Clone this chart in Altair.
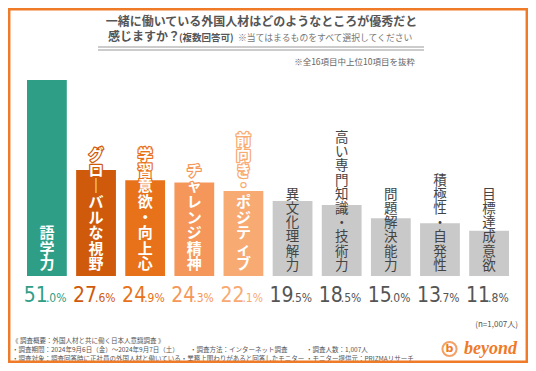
import altair as alt
import pandas as pd

categories = ["語学力", "グローバルな視野", "学習意欲・向上心", "チャレンジ精神", "前向き・ポジティブ",
              "異文化理解力", "高い専門知識・技術力", "問題解決能力", "積極性・自発性", "目標達成意欲"]
values = [51.0, 27.6, 24.9, 24.3, 22.1, 19.5, 18.5, 15.0, 13.7, 11.8]
bar_colors = ["#2e9e87", "#cf5a0c", "#e8721a", "#f5975a", "#f8aa73",
              "#c9c9c9", "#c9c9c9", "#c9c9c9", "#c9c9c9", "#c9c9c9"]
pct_colors = ["#2e9e87", "#cf5a0c", "#e8721a", "#f5975a", "#f8aa73",
              "#555555", "#555555", "#555555", "#555555", "#555555"]
groups = ["c"] * 5 + ["g"] * 5

title1 = "一緒に働いている外国人材はどのようなところが優秀だと"
title2a = "感じますか？"
title2b = "(複数回答可)"
title2c = "※当てはまるものをすべて選択してください"
subnote = "※全16項目中上位10項目を抜粋"
n_note = "(n=1,007人)"
foot1 = "《 調査概要：外国人材と共に働く日本人意識調査 》"
foot2a = "・調査期間：2024年9月6日（金）～2024年9月7日（土）"
foot2b = "・調査方法：インターネット調査"
foot2c = "・調査人数：1,007人"
foot3a = "・調査対象：調査回答時に正社員の外国人材と働いている・業務上関わりがあると回答したモニター"
foot3b = "・モニター提供元：PRIZMAリサーチ"
logo = "beyond"

JP = "Noto Sans CJK JP"
NUM = "'DejaVu Sans Condensed', Roboto, sans-serif"
ORANGE = "#ef7a28"

# geometry of the value axis (pixels per percent), used to stack vertical labels
Y_TOP_PX, Y_BOT_PX, Y_MAX = 72, 268, 51
PX_PER_UNIT = (Y_BOT_PX - Y_TOP_PX) / Y_MAX
LH_C, LH_G, GAP = 15.6, 14.2, 3


def vertical(s):
    return "\n".join("｜" if ch == "ー" else ch for ch in s)


df = pd.DataFrame({
    "cat": categories,
    "value": values,
    "color": bar_colors,
    "pcolor": pct_colors,
    "group": groups,
})
df["vlabel"] = [vertical(c) for c in categories]
df["n"] = [len(c) for c in categories]
df["ipart"] = [str(int(v)) for v in values]
df["dpart"] = ["." + f"{v:.1f}".split(".")[1] + "%" for v in values]
df["base"] = 0.0

xs = alt.Scale(domain=categories, range=[19, 501], paddingInner=0.19, paddingOuter=0)
ys = alt.Scale(domain=[0, Y_MAX], range=[Y_BOT_PX, Y_TOP_PX], nice=False, zero=True)
X = alt.X("cat:N", scale=xs, axis=None)
YB = alt.Y("base:Q", scale=ys, axis=None)
YT = alt.Y("ytop:Q", scale=ys, axis=None)

bars = alt.Chart(df).mark_bar().encode(
    x=X,
    y=alt.Y("value:Q", scale=ys, axis=None),
    color=alt.Color("color:N", scale=None),
)

colored = alt.Chart(df).transform_filter("datum.group == 'c'").transform_calculate(
    ytop=f"(datum.n * {LH_C} + {GAP}) / {PX_PER_UNIT}")
lab_outline = colored.mark_text(
    lineBreak="\n", baseline="top", fontSize=15, lineHeight=LH_C, font=JP,
    fontWeight="bold", strokeWidth=2.5, strokeJoin="round"
).encode(
    x=X, y=YT, text="vlabel:N",
    stroke=alt.Color("color:N", scale=None),
    fill=alt.Color("color:N", scale=None),
)
lab_white = colored.mark_text(
    lineBreak="\n", baseline="top", fontSize=15, lineHeight=LH_C, font=JP,
    fontWeight="bold", color="white"
).encode(x=X, y=YT, text="vlabel:N")

lab_gray = alt.Chart(df).transform_filter("datum.group == 'g'").transform_calculate(
    ytop=f"(datum.n * {LH_G} + {GAP}) / {PX_PER_UNIT}"
).mark_text(
    lineBreak="\n", baseline="top", fontSize=13.5, lineHeight=LH_G, font=JP,
    color="#444444"
).encode(x=X, y=YT, text="vlabel:N")

pct_int = alt.Chart(df).mark_text(
    align="right", baseline="alphabetic", fontSize=21, font=NUM, dy=26, dx=1
).encode(x=X, y=YB, text="ipart:N", color=alt.Color("pcolor:N", scale=None))
pct_dec = alt.Chart(df).mark_text(
    align="left", baseline="alphabetic", fontSize=12, font=NUM, dy=26, dx=-1
).encode(x=X, y=YB, text="dpart:N", color=alt.Color("pcolor:N", scale=None))

one = pd.DataFrame({"a": [0]})


def txt(t, x, y, size, align="left", weight="normal", color="#555555", font=JP, italic=False):
    kw = dict(text=t, align=align, baseline="middle", fontSize=size, fontWeight=weight,
              color=color, font=font)
    if italic:
        kw["fontStyle"] = "italic"
    return alt.Chart(one).mark_text(**kw).encode(x=alt.value(x), y=alt.value(y))


def hrule(x1, x2, y, color="#999999", w=1):
    return alt.Chart(one).mark_rule(color=color, strokeWidth=w).encode(
        x=alt.value(x1), x2=alt.value(x2), y=alt.value(y))


deco = [
    txt(title1, 253.5, 14, 12, align="center", weight="bold"),
    txt(title2a, 100, 29, 12, weight="bold"),
    txt(title2b, 171, 29.5, 9.5, weight="bold"),
    txt(title2c, 230, 29.5, 8.8, color="#777777"),
    hrule(90, 416, 39),
    hrule(90, 416, 42),
    txt(subnote, 407, 54, 8.5, align="right", color="#666666"),
    txt(n_note, 510, 317, 8, align="right"),
    txt(foot1, 4, 333, 6.5),
    txt(foot2a, 4, 342, 6.5),
    txt(foot2b, 182, 342, 6.5),
    txt(foot2c, 298, 342, 6.5),
    txt(foot3a, 4, 351, 6.5),
    txt(foot3b, 298, 351, 6.5),
    txt(logo, 456, 341, 18, weight="bold", color=ORANGE, font="Liberation Serif", italic=True),
    alt.Chart(one).mark_point(shape="circle", size=200, filled=False, color=ORANGE,
                              strokeWidth=2).encode(x=alt.value(441.5), y=alt.value(341)),
    txt("b", 441.5, 341, 11, align="center", weight="bold", color=ORANGE, font="DejaVu Sans"),
    alt.Chart(one).mark_rect(fill=None, stroke=ORANGE, strokeWidth=2.5).encode(
        x=alt.value(1.2), x2=alt.value(518.8), y=alt.value(1.2), y2=alt.value(353.8)),
]

chart = alt.layer(bars, lab_outline, lab_white, lab_gray, pct_int, pct_dec, *deco).properties(
    width=520, height=355, autosize=alt.AutoSizeParams(type="none"), padding=0,
    background="white"
).configure_view(stroke=None)

chart.save("out.html", embed_options={"renderer": "svg", "actions": False})
